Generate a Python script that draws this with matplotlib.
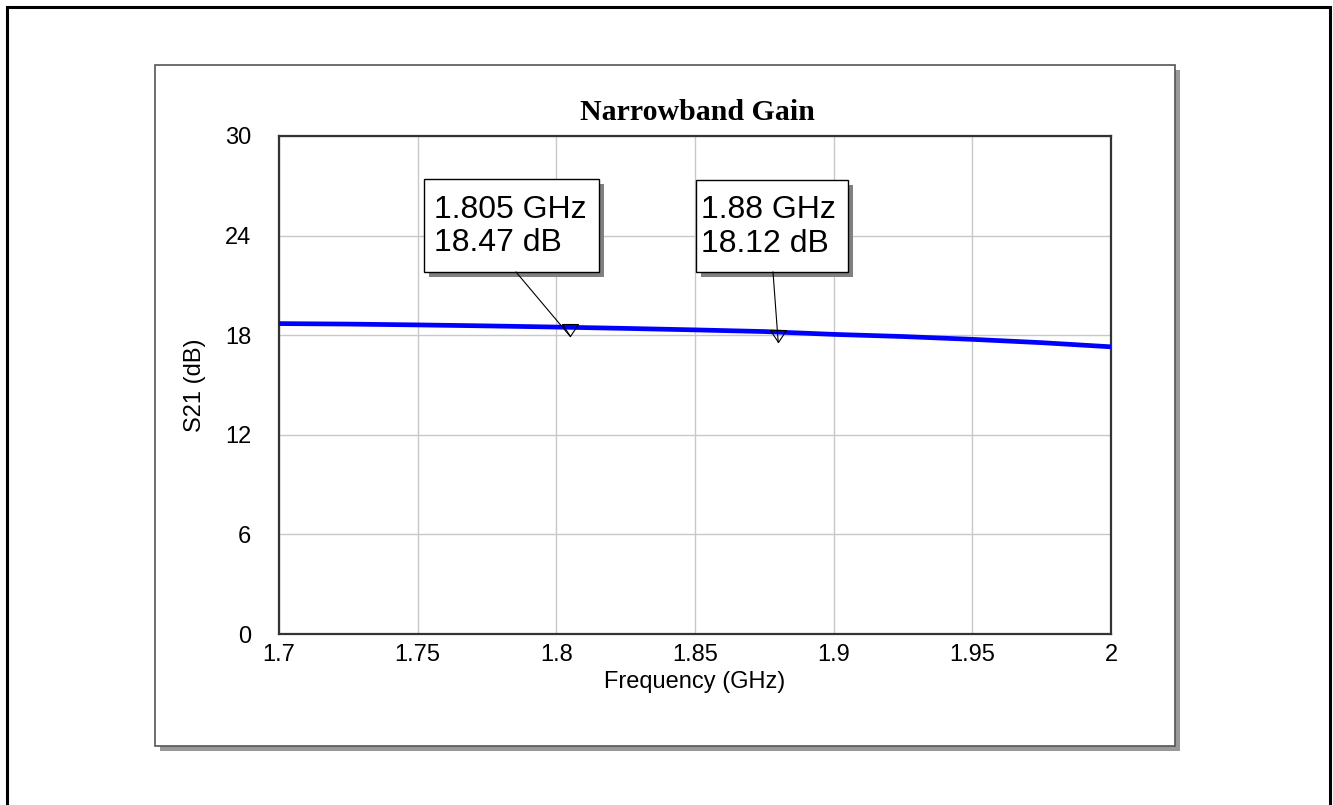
import matplotlib
matplotlib.use("Agg")
import matplotlib.pyplot as plt
from matplotlib.patches import Rectangle
from matplotlib.path import Path
from matplotlib.transforms import ScaledTranslation
import numpy as np

# ---- data ----
freq_ghz = [1.70, 1.725, 1.75, 1.775, 1.80, 1.825, 1.85, 1.875, 1.90, 1.925, 1.95, 1.975, 2.00]
s21_db = [18.70, 18.67, 18.62, 18.56, 18.49, 18.41, 18.32, 18.22, 18.05, 17.92, 17.75, 17.55, 17.30]
marker_freq = [1.805, 1.88]
marker_gain = [18.47, 18.12]
marker_labels = ["1.805 GHz\n18.47 dB", "1.88 GHz\n18.12 dB"]
xticks = [1.7, 1.75, 1.8, 1.85, 1.9, 1.95, 2.0]
xtick_labels = ["1.7", "1.75", "1.8", "1.85", "1.9", "1.95", "2"]
yticks = [0, 6, 12, 18, 24, 30]

W, H = 1333, 805
fig = plt.figure(figsize=(W / 100, H / 100), dpi=100)
plt.rcParams['font.family'] = ['Liberation Sans', 'DejaVu Sans']

def fx(x):
    return x / W

def fy(y):
    return 1 - y / H

# outer border
fig.add_artist(Rectangle((fx(7), fy(830)), fx(1330) - fx(7), fy(7) - fy(830),
                         transform=fig.transFigure, fill=False, ec='black', lw=2.2, zorder=0))
# inner panel shadow + panel
fig.add_artist(Rectangle((fx(160), fy(751)), fx(1180) - fx(160), fy(70) - fy(751),
                         transform=fig.transFigure, fc='#999999', ec='none', zorder=0))
fig.add_artist(Rectangle((fx(155), fy(746)), fx(1175) - fx(155), fy(65) - fy(746),
                         transform=fig.transFigure, fc='white', ec='#555555', lw=1.2, zorder=0.5))

ax = fig.add_axes([fx(279), fy(634), fx(1111) - fx(279), fy(136) - fy(634)])
ax.set_zorder(2)
ax.patch.set_alpha(0)
ax.plot(freq_ghz, s21_db, color='#0000ff', lw=3.4, solid_capstyle='butt', zorder=3)
ax.set_xlim(1.7, 2.0)
ax.set_ylim(0, 30)
ax.set_xticks(xticks)
ax.set_xticklabels(xtick_labels)
ax.set_yticks(yticks)
ax.grid(True, color='#c8c8c8', lw=1.0)
ax.tick_params(length=0, labelsize=17)
ax.tick_params(axis='x', pad=7)
ax.tick_params(axis='y', pad=20)
for s in ax.spines.values():
    s.set_color('#333333')
    s.set_linewidth(1.6)
ax.set_xlabel('Frequency (GHz)', fontsize=17, labelpad=4)
ax.set_ylabel('S21 (dB)', fontsize=17, labelpad=14)
fig.text(fx(697), fy(112), 'Narrowband Gain', ha='center', va='center',
         fontsize=21.5, fontweight='bold', family=['Liberation Serif', 'DejaVu Serif'])

# markers (open triangle hanging just below the point)
tri = Path([(-0.5, 0.375), (0.5, 0.375), (0.0, -0.375), (-0.5, 0.375)],
           [Path.MOVETO, Path.LINETO, Path.LINETO, Path.CLOSEPOLY])
off = ax.transData + ScaledTranslation(0, -3 / 100, fig.dpi_scale_trans)
ax.plot(marker_freq, marker_gain, linestyle='none', marker=tri, markersize=11.5,
        mfc='none', mec='black', mew=0.8, transform=off, zorder=4)

# annotation boxes
boxes = [(424, 179, 599, 272, 434, 516), (696, 180, 848, 272, 701, 773)]
for (l, t, r, b, tx, ax_x), f, g, lab in zip(boxes, marker_freq, marker_gain, marker_labels):
    fig.add_artist(Rectangle((fx(l + 5), fy(b + 5)), fx(r) - fx(l), fy(t) - fy(b),
                             transform=fig.transFigure, fc='#808080', ec='none', zorder=5))
    fig.add_artist(Rectangle((fx(l), fy(b)), fx(r) - fx(l), fy(t) - fy(b),
                             transform=fig.transFigure, fc='white', ec='black', lw=1.0, zorder=6))
    fig.text(fx(tx), fy((t + b) / 2 + 1), lab, ha='left', va='center', fontsize=23,
             linespacing=1.15, zorder=7)
    tip = ax.transData.transform((f, g)) + np.array([0, -9])
    start = np.array([ax_x, H - b])
    fig.add_artist(plt.Line2D([fx(start[0]), tip[0] / W], [start[1] / H, tip[1] / H],
                              transform=fig.transFigure, color='black', lw=0.8, zorder=6))

fig.savefig('out.png', dpi=100)
